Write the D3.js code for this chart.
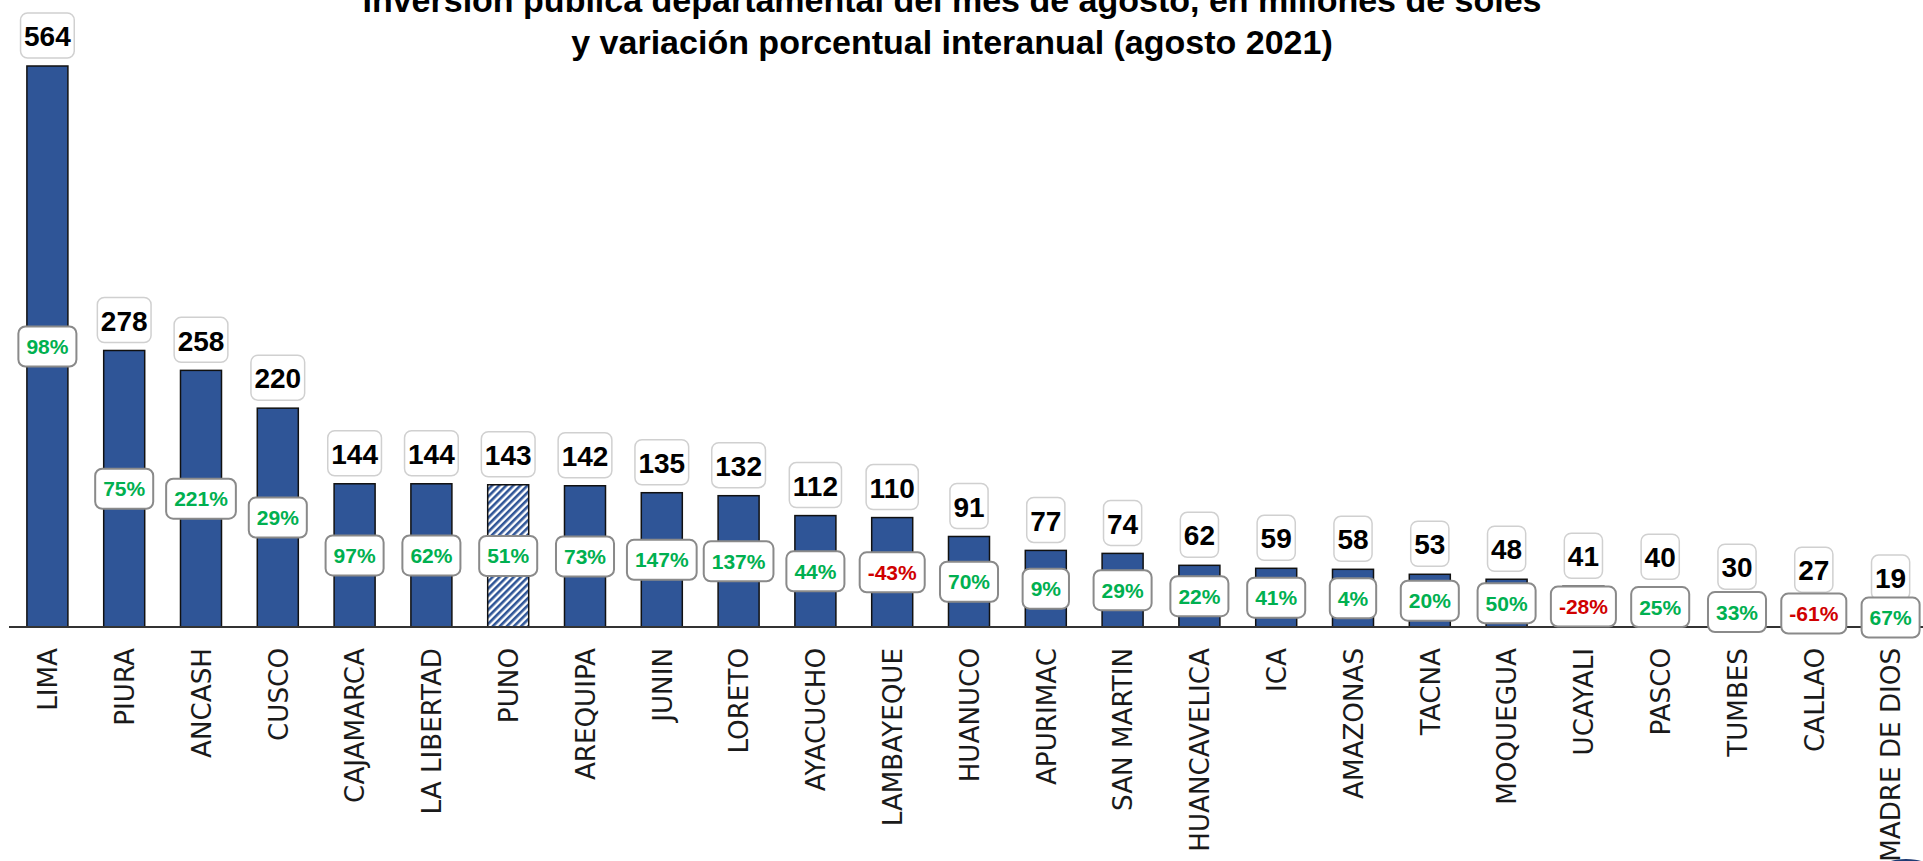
<!DOCTYPE html>
<html>
<head>
<meta charset="utf-8">
<script src="https://cdn.jsdelivr.net/npm/d3@7"></script>
<style>
  body { margin: 0; background: #fff; }
  svg { display: block; }
  .title { font-family: "Liberation Sans", Arial, sans-serif; font-weight: bold; font-size: 34px; }
  .val { font-family: "Liberation Sans", Arial, sans-serif; font-weight: bold; font-size: 28px; }
  .pct { font-family: "Liberation Sans", Arial, sans-serif; font-weight: bold; font-size: 21px; }
  .cat { font-family: "DejaVu Sans", Verdana, sans-serif; font-size: 27px; fill: #1a1a1a; }
</style>
</head>
<body>
<div id="chart"></div>
<script>
// departamentos, ordenados de mayor a menor
var departamentos = ["LIMA", "PIURA", "ANCASH", "CUSCO", "CAJAMARCA", "LA LIBERTAD", "PUNO",
    "AREQUIPA", "JUNIN", "LORETO", "AYACUCHO", "LAMBAYEQUE", "HUANUCO", "APURIMAC",
    "SAN MARTIN", "HUANCAVELICA", "ICA", "AMAZONAS", "TACNA", "MOQUEGUA", "UCAYALI",
    "PASCO", "TUMBES", "CALLAO", "MADRE DE DIOS"];
// inversion en millones de soles
var inversion = [564, 278, 258, 220, 144, 144, 143, 142, 135, 132, 112, 110, 91, 77,
    74, 62, 59, 58, 53, 48, 41, 40, 30, 27, 19];
// variacion porcentual interanual
var variacion = [98, 75, 221, 29, 97, 62, 51, 73, 147, 137, 44, -43, 70, 9,
    29, 22, 41, 4, 20, 50, -28, 25, 33, -61, 67];
// barra con trama
var resaltados = ["PUNO"];

var titulo = ["Inversión pública departamental del mes de agosto, en millones de soles",
    "y variación porcentual interanual (agosto 2021)"];

var width = 1923, height = 861;
var baseY = 627;

var svg = d3.select("#chart").append("svg")
    .attr("width", width)
    .attr("height", height);

// trama diagonal para PUNO
var pat = svg.append("defs").append("pattern")
    .attr("id", "hatch")
    .attr("patternUnits", "userSpaceOnUse")
    .attr("width", 5)
    .attr("height", 5)
    .attr("patternTransform", "rotate(45)");
pat.append("rect").attr("width", 5).attr("height", 5).attr("fill", "#fff");
pat.append("rect").attr("width", 2.6).attr("height", 5).attr("fill", "#2F5597");

var data = departamentos.map(function(d, i) {
    return {name: d, value: inversion[i], pct: variacion[i]};
});

var x = d3.scaleBand()
    .domain(departamentos)
    .range([9, 1929])
    .paddingInner(0.466)
    .paddingOuter(0.233);

var y = d3.scaleLinear()
    .domain([0, 564])
    .range([baseY, 66]);

// titulo
svg.selectAll(".title")
    .data(titulo)
  .enter().append("text")
    .attr("class", "title")
    .attr("x", 952)
    .attr("y", function(d, i) { return 12 + i * 42; })
    .attr("text-anchor", "middle")
    .text(function(d) { return d; });

// barras
svg.selectAll(".bar")
    .data(data)
  .enter().append("rect")
    .attr("class", "bar")
    .attr("x", function(d) { return x(d.name); })
    .attr("y", function(d) { return y(d.value); })
    .attr("width", x.bandwidth())
    .attr("height", function(d) { return y(0) - y(d.value); })
    .attr("fill", function(d) { return resaltados.indexOf(d.name) >= 0 ? "url(#hatch)" : "#2F5597"; })
    .attr("stroke", "#111")
    .attr("stroke-width", 1.5);

// eje x
svg.append("line")
    .attr("x1", 9).attr("x2", width)
    .attr("y1", baseY).attr("y2", baseY)
    .attr("stroke", "#333")
    .attr("stroke-width", 2);

// etiquetas de valor (encima de la barra)
var vg = svg.selectAll(".vlab")
    .data(data)
  .enter().append("g")
    .attr("class", "vlab")
    .attr("transform", function(d) {
        return "translate(" + (x(d.name) + x.bandwidth() / 2) + "," + (y(d.value) - 8 - 22.5) + ")";
    });
vg.append("rect").attr("class", "box");
vg.append("text")
    .attr("class", "val")
    .attr("text-anchor", "middle")
    .attr("dy", "0.38em")
    .text(function(d) { return d.value; });
vg.each(function() {
    var g = d3.select(this);
    var w = g.select("text").node().getComputedTextLength() + 7;
    g.select("rect")
        .attr("x", -w / 2).attr("y", -22.5)
        .attr("width", w).attr("height", 45)
        .attr("rx", 7)
        .attr("fill", "#fff")
        .attr("stroke", "#d0d0d0")
        .attr("stroke-width", 1.5);
});

// etiquetas de variacion (centro de la barra)
var pg = svg.selectAll(".plab")
    .data(data)
  .enter().append("g")
    .attr("class", "plab")
    .attr("transform", function(d) {
        return "translate(" + (x(d.name) + x.bandwidth() / 2) + "," + ((y(d.value) + y(0)) / 2) + ")";
    });
pg.append("rect").attr("class", "box");
pg.append("text")
    .attr("class", "pct")
    .attr("text-anchor", "middle")
    .attr("dy", "0.36em")
    .attr("fill", function(d) { return d.pct < 0 ? "#D00000" : "#00B050"; })
    .text(function(d) { return d.pct + "%"; });
pg.each(function() {
    var g = d3.select(this);
    var w = g.select("text").node().getComputedTextLength() + 16;
    g.select("rect")
        .attr("x", -w / 2).attr("y", -20)
        .attr("width", w).attr("height", 40)
        .attr("rx", 7)
        .attr("fill", "#fff")
        .attr("stroke", "#8a8a8a")
        .attr("stroke-width", 2);
});

// nombres de departamentos
svg.selectAll(".cat")
    .data(data)
  .enter().append("text")
    .attr("class", "cat")
    .attr("text-anchor", "end")
    .attr("dy", "0.36em")
    .attr("transform", function(d) {
        return "translate(" + (x(d.name) + x.bandwidth() / 2) + ",648) rotate(-90) scale(0.97,1)";
    })
    .text(function(d) { return d.name; });

// resto de un logo cortado en la esquina
svg.append("ellipse")
    .attr("cx", 1906).attr("cy", 868)
    .attr("rx", 24).attr("ry", 9)
    .attr("fill", "#1F3B73");
</script>
</body>
</html>
